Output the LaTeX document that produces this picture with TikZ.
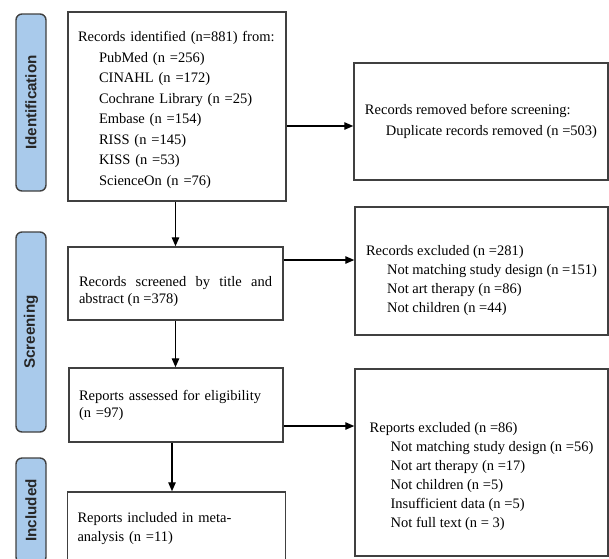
\documentclass[tikz,border=0pt]{standalone}
\usepackage{fontspec}
\setmainfont{Liberation Serif}
\newfontfamily\etiqfont{Liberation Sans}
\usetikzlibrary{arrows.meta}

\definecolor{bleu}{HTML}{A9CAEB}
\definecolor{bord}{HTML}{404040}
\newcommand{\retrait}{\hspace*{21pt}}
\newcommand{\haut}[1]{\rule{0pt}{#1}}

\tikzset{
  boite/.style={draw=bord, line width=1.5pt, inner xsep=10pt, inner ysep=0pt,
    align=left, font=\fontsize{14.5}{19}\selectfont},
  etape/.style={draw=bord, fill=bleu, line width=1.4pt, rounded corners=6pt,
    rotate=90, minimum height=30pt, inner sep=0pt, text=black!85,
    font=\etiqfont\bfseries\fontsize{15.2}{18}\selectfont},
  fleche/.style={line width=1.3pt, -{Triangle[length=9pt,width=7.5pt]}}
}

\begin{document}
\begin{tikzpicture}[x=1pt,y=-1pt]
\path[use as bounding box] (0,0) rectangle (609,558);
\clip (0,0) rectangle (609,558);

% les etapes
\foreach \n/\t/\y/\h in {lid/Identification/102.5/177, lscr/Screening/332/200, linc/Included/510.5/105}
    \node[etape, minimum width=\h pt] (\n) at (31,\y) {\t};

% les boites de gauche
\node[boite, text width=198pt, minimum height=189pt, font=\fontsize{14.5}{20.5}\selectfont]
    (ident) at (177,106.5) {\haut{17pt}Records identified (n=881) from:\\
    \retrait PubMed (n =256)\\ \retrait CINAHL (n =172)\\ \retrait Cochrane Library (n =25)\\
    \retrait Embase (n =154)\\ \retrait RISS (n =145)\\ \retrait KISS (n =53)\\
    \retrait ScienceOn (n =76)};
\node[boite, align=justify, text width=193pt, minimum width=215pt, minimum height=73pt,
    font=\fontsize{14.5}{17}\selectfont]
    (tri) at (175.5,283.5) {\haut{26pt}Records screened by title and \mbox{abstract} (n =378)};
\node[boite, text width=194pt, minimum height=74pt, font=\fontsize{14.5}{17}\selectfont]
    (eligi) at (176,405) {Reports assessed for eligibility\\ (n =97)};
\node[boite, text width=198pt, minimum height=74pt, font=\fontsize{14.5}{19}\selectfont]
    (incl) at (176.5,529) {Reports included in meta-\\ analysis (n =11)};

% les boites de droite
\node[boite, inner xsep=4pt, minimum width=254pt, minimum height=117pt, font=\fontsize{14.5}{20.5}\selectfont]
    (retir) at (481,121.5) {Records removed before screening:\\
    \retrait Duplicate records removed (n =503)};
\node[boite, inner xsep=4pt, minimum width=253pt, minimum height=128pt]
    (exclu) at (481.5,271) {\haut{30pt}Records excluded (n =281)\\
    \retrait Not matching study design (n =151)\\ \retrait Not art therapy (n =86)\\
    \retrait Not children (n =44)};
\node[boite, inner xsep=4pt, minimum width=253pt, minimum height=187pt]
    (exrap) at (481.5,462.5) {\haut{38pt}Reports excluded (n =86)\\
    \retrait Not matching study design (n =56)\\ \retrait Not art therapy (n =17)\\
    \retrait Not children (n =5)\\ \retrait Insufficient data (n =5)\\
    \retrait Not full text (n = 3)};

% les fleches vers le bas
\draw[fleche] (ident.south -| tri.north) -- (tri.north);
\draw[fleche] (tri.south) -- (tri.south |- eligi.north);
\draw[fleche] ([xshift=-4pt]eligi.south) -- ([xshift=-4pt]eligi.south |- incl.north);

% les fleches vers la droite
\draw[fleche] ([yshift=-4.5pt]retir.west -| ident.east) -- ([yshift=-4.5pt]retir.west);
\draw[fleche] ([yshift=11pt]exclu.west -| tri.east) -- ([yshift=11pt]exclu.west);
\draw[fleche] ([yshift=36.5pt]exrap.west -| eligi.east) -- ([yshift=36.5pt]exrap.west);
\end{tikzpicture}
\end{document}
